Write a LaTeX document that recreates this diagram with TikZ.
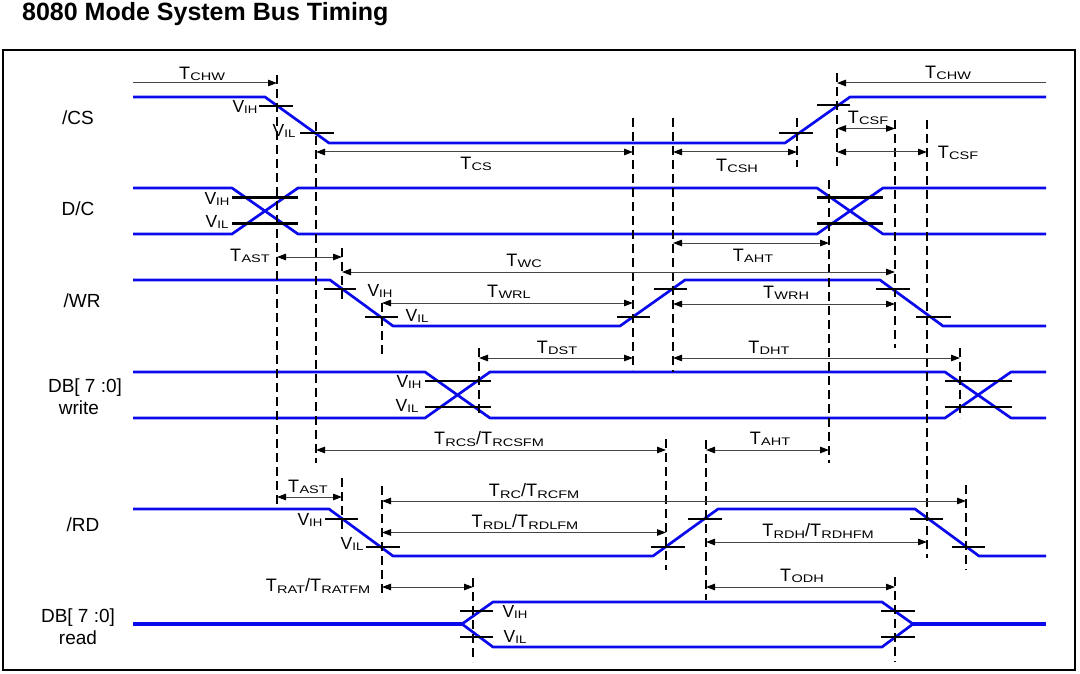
\documentclass[tikz,border=0pt]{standalone}
\usepackage{fontspec}
\setmainfont{Liberation Sans}
\usepackage{graphicx}
\usetikzlibrary{arrows.meta}
\definecolor{sigblue}{RGB}{10,10,235}
\definecolor{dimgray}{RGB}{70,70,70}
\newcommand\Ts[1]{T\kern0.3pt\raisebox{-1.4pt}{\scalebox{1.32}[1]{\fontsize{11}{11}\selectfont #1}}}
\newcommand\Vs[1]{V\raisebox{-1.4pt}{\scalebox{1.2}[1]{\fontsize{11}{11}\selectfont #1}}}
\newcommand\dimboth[3]{\draw[dimline,{Triangle[length=9pt,width=6.5pt,color=black]}-{Triangle[length=9pt,width=6.5pt,color=black]}] (#1,#3) -- (#2,#3);}
\newcommand\vdsh[3]{\draw[dashv] (#1,#2) -- (#1,#3);}
\newcommand\thr[3]{\draw[thrline] (#1,#3) -- (#2,#3);}
\begin{document}
\begin{tikzpicture}[x=1pt,y=-1pt,
  sig/.style={line width=2.7pt,sigblue,line join=round},
  sigthick/.style={line width=3.8pt,sigblue,line join=round},
  dashv/.style={line width=2.2pt,black,dash pattern=on 9pt off 5pt},
  thrline/.style={line width=2.2pt,black},
  dimline/.style={line width=1pt,dimgray},
  siglab/.style={font=\fontsize{19}{21}\selectfont,inner sep=0pt},
  tlab/.style={font=\fontsize{18}{18}\selectfont,inner sep=0pt},
  vlab/.style={font=\fontsize{17.5}{17.5}\selectfont,inner sep=0pt}]
\useasboundingbox (0,0) rectangle (1080,674);
% title and frame
\node[anchor=base west,inner sep=0pt,font=\fontsize{25}{26}\selectfont\bfseries] (title) at (22,21) {8080 Mode System Bus Timing};
\draw[line width=2pt] (3,50) rectangle (1075,670);
% signal names
\node[siglab] (ncs) at (78,118) {/CS};
\node[siglab] (ndc) at (78,209) {D/C};
\node[siglab] (nwr) at (82,301) {/WR};
\node[siglab] (ndbw) at (85,388) {DB[ 7 :0]};
\node[siglab] (ndbw2) at (79,408) {write};
\node[siglab] (nrd) at (83,525) {/RD};
\node[siglab] (ndbr) at (78,618) {DB[ 7 :0]};
\node[siglab] (ndbr2) at (78,638) {read};
% waveforms
\draw[sig] (133,97) -- (265,97) -- (329,143) -- (785,143) -- (850,97) -- (1046,97);
\draw[sig] (133,188) -- (232,188) -- (298,234) -- (817,234) -- (883,188) -- (1046,188);
\draw[sig] (133,234) -- (232,234) -- (298,188) -- (817,188) -- (883,234) -- (1046,234);
\draw[sig] (133,280) -- (330,280) -- (393,326) -- (620,326) -- (685,280) -- (880,280) -- (943,326) -- (1046,326);
\draw[sig] (133,372) -- (425,372) -- (490,418) -- (945,418) -- (1011,372) -- (1046,372);
\draw[sig] (133,418) -- (425,418) -- (490,372) -- (945,372) -- (1011,418) -- (1046,418);
\draw[sig] (133,509) -- (329,509) -- (393,556) -- (653,556) -- (718,509) -- (915,509) -- (979,556) -- (1046,556);
\draw[sigthick] (133,624) -- (462,624);
\draw[sig] (462,624) -- (493,602) -- (882,602) -- (913,624);
\draw[sig] (462,624) -- (493,647) -- (882,647) -- (913,624);
\draw[sigthick] (913,624) -- (1046,624);
% dashed reference lines
\vdsh{277}{75}{509}
\vdsh{316}{122}{463}
\vdsh{342}{248}{300}
\vdsh{342}{478}{530}
\vdsh{382}{303}{355}
\vdsh{382}{486}{597}
\vdsh{479}{348}{417}
\vdsh{473}{578}{662}
\vdsh{633}{118}{370}
\vdsh{673}{118}{372}
\vdsh{666}{439}{570}
\vdsh{706}{440}{600}
\vdsh{797}{118}{167}
\vdsh{837}{73}{167}
\vdsh{829}{180}{463}
\vdsh{895}{120}{348}
\vdsh{927}{120}{558}
\vdsh{960}{348}{418}
\vdsh{966}{485}{570}
\vdsh{895}{577}{662}
% threshold ticks
\thr{259}{293}{106}\thr{300}{334}{133.3}\thr{779}{813}{132.7}\thr{817}{850}{105}
\thr{232}{298}{197.5}\thr{232}{298}{223.5}\thr{817}{883}{197.5}\thr{817}{883}{223.5}
\thr{323.5}{356}{289.3}\thr{365}{398}{316.7}\thr{617}{650}{316.7}\thr{654}{687}{289.3}\thr{876}{910}{289.3}\thr{916}{951}{316.7}
\thr{425}{491}{381}\thr{425}{491}{407.3}\thr{945}{1012}{381}\thr{945}{1012}{407.3}
\thr{325}{358}{519.3}\thr{366}{400}{546.7}\thr{651}{685}{546.7}\thr{688}{722}{519.3}\thr{910}{943}{519.3}\thr{952}{985}{546.7}
\thr{460}{493}{611}\thr{460}{493}{637}\thr{881}{915}{611}\thr{881}{915}{637}
% dimension arrows
\draw[dimline,-{Triangle[length=9pt,width=6.5pt,color=black]}] (133,83) -- (277,83);
\draw[dimline,-{Triangle[length=9pt,width=6.5pt,color=black]}] (1046,83) -- (837,83);
\dimboth{316}{633}{152}
\dimboth{673}{797}{152}
\dimboth{837}{895}{128.5}
\dimboth{837}{927}{152}
\dimboth{673}{829}{243}
\dimboth{277}{342}{257}
\dimboth{342}{895}{272}
\dimboth{382}{633}{303}
\dimboth{673}{895}{304}
\dimboth{479}{633}{358}
\dimboth{673}{960}{358}
\dimboth{316}{666}{450}
\dimboth{706}{829}{450}
\dimboth{277}{342}{497}
\dimboth{382}{966}{501}
\dimboth{382}{666}{532.5}
\dimboth{706}{927}{542}
\dimboth{382}{473}{587}
\dimboth{706}{895}{587}
% timing labels
\node[tlab] (lchw1) at (202,74) {\Ts{CHW}};
\node[tlab] (lchw2) at (948,73) {\Ts{CHW}};
\node[tlab] (lcs) at (476,164) {\Ts{CS}};
\node[tlab] (lcsh) at (737,166) {\Ts{CSH}};
\node[tlab] (lcsf1) at (868,118) {\Ts{CSF}};
\node[tlab] (lcsf2) at (958,153) {\Ts{CSF}};
\node[tlab] (laht1) at (753,256) {\Ts{AHT}};
\node[tlab] (last1) at (250,256) {\Ts{AST}};
\node[tlab] (lwc) at (524,261) {\Ts{WC}};
\node[tlab] (lwrl) at (509,292) {\Ts{WRL}};
\node[tlab] (lwrh) at (786,293) {\Ts{WRH}};
\node[tlab] (ldst) at (557,348) {\Ts{DST}};
\node[tlab] (ldht) at (769,348) {\Ts{DHT}};
\node[tlab] (lrcs) at (489,439) {\Ts{RCS}/\Ts{RCSFM}};
\node[tlab] (laht2) at (770,439) {\Ts{AHT}};
\node[tlab] (last2) at (308,487) {\Ts{AST}};
\node[tlab] (lrc) at (534,491) {\Ts{RC}/\Ts{RCFM}};
\node[tlab] (lrdl) at (525,522) {\Ts{RDL}/\Ts{RDLFM}};
\node[tlab] (lrdh) at (818,531) {\Ts{RDH}/\Ts{RDHFM}};
\node[tlab] (lrat) at (318,586) {\Ts{RAT}/\Ts{RATFM}};
\node[tlab] (lodh) at (802,576) {\Ts{ODH}};
% threshold labels
\node[vlab] (v1) at (245,107) {\Vs{IH}};
\node[vlab] (v2) at (284,131) {\Vs{IL}};
\node[vlab] (v3) at (217,199) {\Vs{IH}};
\node[vlab] (v4) at (217,222) {\Vs{IL}};
\node[vlab] (v5) at (380,291) {\Vs{IH}};
\node[vlab] (v6) at (417,316) {\Vs{IL}};
\node[vlab] (v7) at (409,382) {\Vs{IH}};
\node[vlab] (v8) at (407,406) {\Vs{IL}};
\node[vlab] (v9) at (310,520) {\Vs{IH}};
\node[vlab] (v10) at (352,544) {\Vs{IL}};
\node[vlab] (v11) at (515,612) {\Vs{IH}};
\node[vlab] (v12) at (515,637) {\Vs{IL}};
\end{tikzpicture}
\end{document}
